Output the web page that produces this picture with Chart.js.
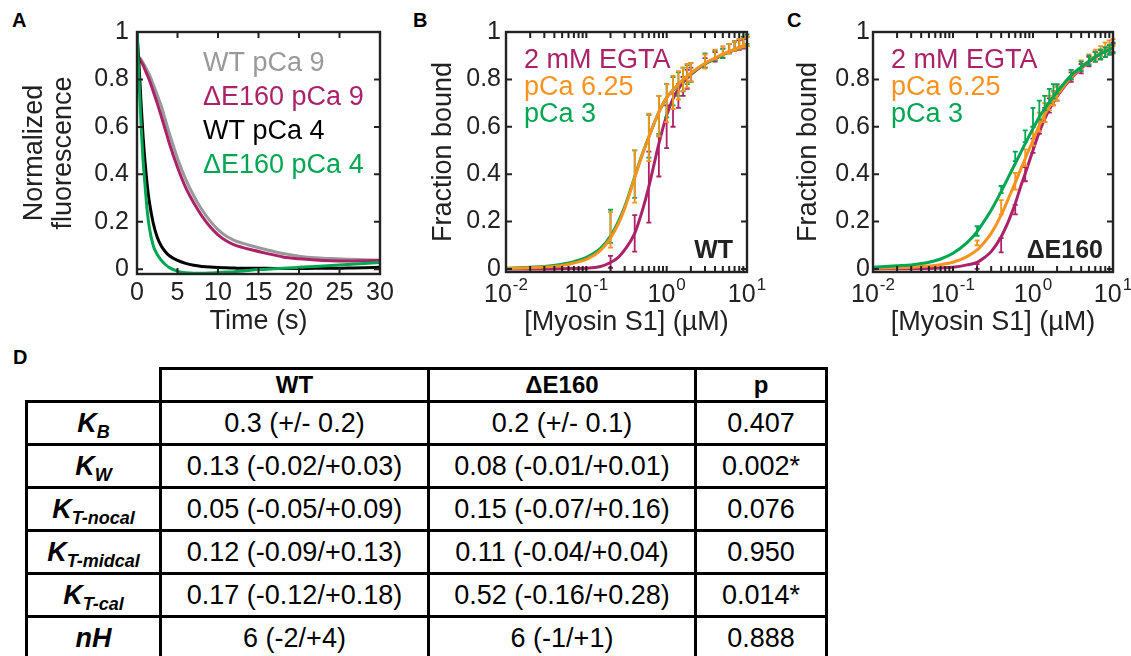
<!DOCTYPE html>
<html>
<head>
<meta charset="utf-8">
<title>Fluorescence decay and S1 binding</title>
<script src="https://cdn.jsdelivr.net/npm/chart.js@4.4.1/dist/chart.umd.min.js"></script>
<style>
  html, body { margin: 0; padding: 0; background: #fff; }
  body { position: relative; width: 1131px; height: 656px; overflow: hidden;
         font-family: 'Liberation Sans', Arial, Helvetica, sans-serif; color: #000; }
  canvas { position: absolute; top: 0; }
  .tag { position: absolute; font-weight: bold; font-size: 20px; line-height: 20px; }
  table { position: absolute; left: 25px; top: 367px; border-collapse: collapse; table-layout: fixed; }
  th, td { border: 3px solid #000; text-align: center; padding: 0; }
  th { font-size: 24px; font-weight: bold; }
  td { font-size: 27px; }
  tr.head { height: 33px; }
  tr.row { height: 43px; }
  th.blank { border-top: none; border-left: none; }
  td.k { font-weight: bold; font-style: italic; font-size: 27px; }
  td.k sub { font-size: 18px; vertical-align: -6px; line-height: 0; }
</style>
</head>
<body>
<div class="tag" style="left:12px;top:10px">A</div>
<div class="tag" style="left:413px;top:10px">B</div>
<div class="tag" style="left:787px;top:10px">C</div>
<div class="tag" style="left:13px;top:347px">D</div>

<canvas id="chartA" width="400" height="340" style="left:0px"></canvas>
<canvas id="chartB" width="370" height="340" style="left:400px"></canvas>
<canvas id="chartC" width="361" height="340" style="left:770px"></canvas>

<table id="params"></table>

<script>
// ---------- panel A: stopped-flow traces ----------
const timeS    = [0, 0.25, 0.5, 0.75, 1, 1.25, 1.5, 2, 2.5, 3, 3.5, 4, 5, 6, 7, 8, 9, 10, 11, 12, 13, 14, 16, 18, 20, 22, 24, 26, 28, 30];
const wtPCa9   = [0.91, 0.895, 0.885, 0.87, 0.855, 0.838, 0.822, 0.78, 0.735, 0.688, 0.63, 0.572, 0.468, 0.38, 0.31, 0.252, 0.205, 0.167, 0.14, 0.122, 0.11, 0.1, 0.082, 0.066, 0.055, 0.048, 0.045, 0.042, 0.04, 0.038];
const d160PCa9 = [0.90, 0.89, 0.875, 0.86, 0.84, 0.82, 0.80, 0.75, 0.70, 0.645, 0.588, 0.53, 0.43, 0.345, 0.28, 0.225, 0.18, 0.145, 0.12, 0.103, 0.092, 0.083, 0.067, 0.052, 0.044, 0.039, 0.036, 0.035, 0.036, 0.038];
const wtPCa4   = [1.0, 0.86, 0.70, 0.56, 0.45, 0.36, 0.29, 0.195, 0.135, 0.098, 0.074, 0.057, 0.037, 0.025, 0.017, 0.012, 0.009, 0.007, 0.006, 0.005, 0.004, 0.004, 0.004, 0.003, 0.003, 0.004, 0.004, 0.005, 0.006, 0.008];
const d160PCa4 = [1.0, 0.80, 0.61, 0.46, 0.35, 0.25, 0.18, 0.10, 0.062, 0.038, 0.02, 0.007, -0.008, -0.015, -0.017, -0.017, -0.016, -0.014, -0.012, -0.01, -0.007, -0.004, 0.0, 0.004, 0.008, 0.012, 0.016, 0.02, 0.024, 0.028];
const timeTicks = [0, 5, 10, 15, 20, 25, 30];
const fracTicks = [0, 0.2, 0.4, 0.6, 0.8, 1];

// ---------- panels B/C: binding data (mean, error) ----------
const concUM = [0.2, 0.4, 0.6, 0.8, 1, 1.2, 1.4, 1.6, 1.8, 2, 3, 4, 5, 6, 7, 8, 9, 10];
const wtEgta     = [0.03, 0.15, 0.345, 0.475, 0.6, 0.67, 0.73, 0.77, 0.80, 0.82, 0.87, 0.895, 0.91, 0.93, 0.94, 0.945, 0.95, 0.96];
const wtEgtaErr  = [0.025, 0.077, 0.15, 0.085, 0.09, 0.07, 0.05, 0.04, 0.04, 0.03, 0.02, 0.02, 0.02, 0.02, 0.02, 0.02, 0.02, 0.02];
const wtCa625    = [0.165, 0.39, 0.555, 0.645, 0.70, 0.745, 0.775, 0.80, 0.815, 0.83, 0.875, 0.905, 0.92, 0.93, 0.94, 0.95, 0.955, 0.96];
const wtCa625Err = [0.075, 0.11, 0.10, 0.085, 0.08, 0.07, 0.06, 0.05, 0.05, 0.04, 0.03, 0.02, 0.02, 0.02, 0.02, 0.02, 0.02, 0.02];
const wtCa3      = [0.18, 0.40, 0.56, 0.65, 0.71, 0.75, 0.78, 0.80, 0.82, 0.83, 0.88, 0.90, 0.91, 0.93, 0.94, 0.95, 0.96, 0.97];
const wtCa3Err   = [0.07, 0.10, 0.09, 0.08, 0.07, 0.06, 0.05, 0.05, 0.04, 0.04, 0.03, 0.02, 0.02, 0.02, 0.02, 0.02, 0.02, 0.02];
const dEgta      = [0.01, 0.10, 0.25, 0.40, 0.52, 0.60, 0.65, 0.69, 0.72, 0.74, 0.81, 0.845, 0.875, 0.895, 0.905, 0.915, 0.925, 0.935];
const dEgtaErr   = [0.01, 0.03, 0.02, 0.03, 0.03, 0.03, 0.03, 0.03, 0.03, 0.03, 0.02, 0.02, 0.02, 0.02, 0.02, 0.02, 0.02, 0.02];
const dCa625     = [0.11, 0.26, 0.37, 0.47, 0.56, 0.62, 0.66, 0.70, 0.72, 0.74, 0.82, 0.86, 0.885, 0.905, 0.92, 0.935, 0.945, 0.955];
const dCa625Err  = [0.01, 0.03, 0.035, 0.035, 0.04, 0.04, 0.04, 0.03, 0.03, 0.03, 0.02, 0.02, 0.02, 0.02, 0.02, 0.02, 0.02, 0.015];
const dCa3       = [0.16, 0.335, 0.475, 0.56, 0.64, 0.67, 0.70, 0.73, 0.75, 0.76, 0.82, 0.855, 0.88, 0.895, 0.905, 0.915, 0.925, 0.93];
const dCa3Err    = [0.02, 0.015, 0.02, 0.025, 0.04, 0.04, 0.03, 0.03, 0.03, 0.02, 0.02, 0.02, 0.02, 0.02, 0.02, 0.02, 0.02, 0.02];

// fitted curves
const fitConc     = [0.01, 0.02, 0.03, 0.05, 0.07, 0.1, 0.15, 0.2, 0.25, 0.3, 0.4, 0.5, 0.6, 0.7, 0.8, 1, 1.2, 1.5, 2, 3, 4, 5, 7, 10];
const wtEgtaFit   = [0, 0, 0, 0.001, 0.002, 0.003, 0.01, 0.027, 0.049, 0.08, 0.15, 0.248, 0.347, 0.445, 0.529, 0.648, 0.719, 0.775, 0.82, 0.865, 0.887, 0.905, 0.925, 0.947];
const wtCa625Fit  = [0.002, 0.005, 0.008, 0.015, 0.025, 0.04, 0.078, 0.13, 0.19, 0.255, 0.385, 0.485, 0.556, 0.615, 0.662, 0.723, 0.755, 0.79, 0.826, 0.868, 0.89, 0.907, 0.928, 0.95];
const wtCa3Fit    = [0.003, 0.007, 0.01, 0.02, 0.031, 0.049, 0.087, 0.139, 0.2, 0.262, 0.389, 0.487, 0.557, 0.616, 0.662, 0.723, 0.754, 0.789, 0.824, 0.866, 0.887, 0.905, 0.925, 0.947];
const dEgtaFit    = [0, 0.001, 0.001, 0.002, 0.004, 0.007, 0.017, 0.028, 0.049, 0.073, 0.136, 0.206, 0.276, 0.347, 0.403, 0.501, 0.578, 0.655, 0.728, 0.805, 0.846, 0.874, 0.908, 0.938];
const dCa625Fit   = [0.003, 0.005, 0.007, 0.012, 0.018, 0.028, 0.052, 0.08, 0.115, 0.15, 0.227, 0.302, 0.364, 0.42, 0.466, 0.543, 0.606, 0.67, 0.733, 0.81, 0.85, 0.878, 0.912, 0.943];
const dCa3Fit     = [0.007, 0.013, 0.017, 0.028, 0.042, 0.066, 0.111, 0.157, 0.206, 0.248, 0.326, 0.392, 0.445, 0.49, 0.529, 0.592, 0.641, 0.69, 0.747, 0.817, 0.852, 0.877, 0.908, 0.933];
const logTicks = [0.01, 0.1, 1, 10];

// ---------- panel D: fit parameters ----------
const paramNames = [['K', 'B'], ['K', 'W'], ['K', 'T-nocal'], ['K', 'T-midcal'], ['K', 'T-cal'], ['nH', '']];
const wtValues   = ['0.3 (+/- 0.2)', '0.13 (-0.02/+0.03)', '0.05 (-0.05/+0.09)', '0.12 (-0.09/+0.13)', '0.17 (-0.12/+0.18)', '6 (-2/+4)'];
const d160Values = ['0.2 (+/- 0.1)', '0.08 (-0.01/+0.01)', '0.15 (-0.07/+0.16)', '0.11 (-0.04/+0.04)', '0.52 (-0.16/+0.28)', '6 (-1/+1)'];
const pValues    = ['0.407', '0.002*', '0.076', '0.950', '0.014*', '0.888'];

// ---------- styling ----------
const FONT = "'Liberation Sans', Arial, Helvetica, sans-serif";
const AXIS = '#222222';
const GRAY = '#999999';
const MAGENTA = '#ab2268';
const GREEN = '#00a651';
const ORANGE = '#f7931e';
const BLACK = '#000000';

const pts = (xs, ys) => xs.map((x, i) => ({ x: x, y: ys[i] }));
const fmtFrac = v => (v === 0 || v === 1) ? String(v) : v.toFixed(1);
const noGrid = { display: false, drawTicks: false };

/**
 * Box frame with inward ticks (all four sides), extra texts, log labels
 */
const boxPlugin = {
    id: 'box',
    afterDatasetsDraw(chart, args, o) {
        const { ctx, chartArea: a, scales } = chart;
        const xs = scales.x, ys = scales.y;
        const L = 6;
        ctx.save();
        ctx.strokeStyle = AXIS;
        ctx.lineWidth = 2;
        ctx.beginPath();
        const xPix = xs.ticks.map(t => xs.getPixelForValue(t.value));
        if (o.logMinor) {
            for (let d = -2; d < 1; d++) {
                for (let k = 2; k <= 9; k++) xPix.push(xs.getPixelForValue(k * Math.pow(10, d)));
            }
        }
        xPix.forEach(px => {
            ctx.moveTo(px, a.bottom); ctx.lineTo(px, a.bottom - L);
            ctx.moveTo(px, a.top); ctx.lineTo(px, a.top + L);
        });
        ys.ticks.forEach(t => {
            const py = ys.getPixelForValue(t.value);
            ctx.moveTo(a.left, py); ctx.lineTo(a.left + L, py);
            ctx.moveTo(a.right, py); ctx.lineTo(a.right - L, py);
        });
        ctx.stroke();
        ctx.lineWidth = 2.4;
        ctx.strokeRect(a.left, a.top, a.right - a.left, a.bottom - a.top);

        // 10^n tick labels for log axes
        if (o.logLabels) {
            ctx.fillStyle = AXIS;
            ctx.textBaseline = 'alphabetic';
            ctx.textAlign = 'left';
            xs.ticks.forEach(t => {
                const px = xs.getPixelForValue(t.value);
                const sup = String(Math.round(Math.log10(t.value)));
                ctx.font = '25px ' + FONT;
                const wb = ctx.measureText('10').width;
                ctx.font = '17px ' + FONT;
                const ws = ctx.measureText(sup).width;
                const x0 = px - (wb + ws + 1) / 2;
                ctx.font = '25px ' + FONT;
                ctx.fillText('10', x0, a.bottom + 30);
                ctx.font = '17px ' + FONT;
                ctx.fillText(sup, x0 + wb + 1, a.bottom + 18);
            });
        }

        (o.texts || []).forEach(t => {
            ctx.font = t.font;
            ctx.fillStyle = t.color;
            ctx.textAlign = t.align || 'left';
            ctx.textBaseline = 'alphabetic';
            ctx.fillText(t.text, t.x, t.y);
        });
        ctx.restore();
    }
};

/**
 * Vertical error bars drawn right after their own dataset
 */
const errorBarPlugin = {
    id: 'errorBars',
    afterDatasetDraw(chart, args) {
        const ds = chart.data.datasets[args.index];
        if (!ds.errors) return;
        const { ctx } = chart;
        const xs = chart.scales.x, ys = chart.scales.y;
        ctx.save();
        ctx.strokeStyle = ds.borderColor;
        ctx.lineWidth = 1.8;
        ctx.beginPath();
        ds.data.forEach((p, i) => {
            const e = ds.errors[i];
            const px = xs.getPixelForValue(p.x);
            const y1 = ys.getPixelForValue(p.y - e);
            const y2 = ys.getPixelForValue(p.y + e);
            ctx.moveTo(px, y1); ctx.lineTo(px, y2);
            ctx.moveTo(px - 2.5, y1); ctx.lineTo(px + 2.5, y1);
            ctx.moveTo(px - 2.5, y2); ctx.lineTo(px + 2.5, y2);
        });
        ctx.stroke();
        ctx.restore();
    }
};

const tickFont = { family: FONT, size: 25 };
const titleFont = { family: FONT, size: 27 };
const legendFont = '27px ' + FONT;

// ---------- Panel A ----------
new Chart(document.getElementById('chartA'), {
    type: 'line',
    data: {
        datasets: [
            { label: 'WT pCa 9', data: pts(timeS, wtPCa9), borderColor: GRAY, order: 4 },
            { label: 'ΔE160 pCa 9', data: pts(timeS, d160PCa9), borderColor: MAGENTA, order: 3 },
            { label: 'WT pCa 4', data: pts(timeS, wtPCa4), borderColor: BLACK, order: 2 },
            { label: 'ΔE160 pCa 4', data: pts(timeS, d160PCa4), borderColor: GREEN, order: 1 }
        ]
    },
    options: {
        responsive: false,
        animation: false,
        devicePixelRatio: 1,
        layout: { padding: { left: 0, top: 32, right: 20, bottom: 0 } },
        elements: {
            point: { radius: 0 },
            line: { borderWidth: 3, cubicInterpolationMode: 'monotone' }
        },
        plugins: {
            legend: { display: false },
            tooltip: { enabled: false },
            box: {
                texts: [
                    { text: 'WT pCa 9', x: 203, y: 71, color: GRAY, font: legendFont },
                    { text: 'ΔE160 pCa 9', x: 203, y: 105, color: MAGENTA, font: legendFont },
                    { text: 'WT pCa 4', x: 203, y: 139, color: BLACK, font: legendFont },
                    { text: 'ΔE160 pCa 4', x: 203, y: 173, color: GREEN, font: legendFont }
                ]
            }
        },
        scales: {
            x: {
                type: 'linear', min: 0, max: 30,
                grid: noGrid, border: { display: false },
                afterBuildTicks: s => { s.ticks = timeTicks.map(v => ({ value: v })); },
                afterFit: s => { s.height = 66; },
                ticks: { color: AXIS, font: tickFont, padding: 4, maxRotation: 0, autoSkip: false },
                title: { display: true, text: 'Time (s)', color: AXIS, font: titleFont, padding: { top: 0, bottom: 2 } }
            },
            y: {
                type: 'linear', min: -0.02, max: 1,
                grid: noGrid, border: { display: false },
                afterBuildTicks: s => { s.ticks = fracTicks.map(v => ({ value: v })); },
                afterFit: s => { s.width = 137; },
                ticks: { color: AXIS, font: tickFont, padding: 8, callback: fmtFrac },
                title: {
                    display: true, text: ['Normalized', 'fluorescence'], color: AXIS,
                    font: { family: FONT, size: 27, lineHeight: 1.04 }, padding: { top: 21, bottom: 0 }
                }
            }
        }
    },
    plugins: [boxPlugin]
});

// ---------- Panels B & C ----------
function bindingChart(id, fits, means, errs, order, yWidth, padRight, tickPad, titlePad, legendX, tag) {
    const names = ['2 mM EGTA', 'pCa 6.25', 'pCa 3'];
    const colors = [MAGENTA, ORANGE, GREEN];
    const datasets = [];
    for (let i = 0; i < 3; i++) {
        datasets.push({
            label: names[i] + ' fit', data: pts(fitConc, fits[i]), borderColor: colors[i],
            borderWidth: 3, order: order[i] * 2 + 1
        });
        datasets.push({
            label: names[i], data: pts(concUM, means[i]), errors: errs[i], borderColor: colors[i],
            showLine: false, pointRadius: 0, order: order[i] * 2
        });
    }
    return new Chart(document.getElementById(id), {
        type: 'line',
        data: { datasets: datasets },
        options: {
            responsive: false,
            animation: false,
            devicePixelRatio: 1,
            layout: { padding: { left: 0, top: 32, right: padRight, bottom: 0 } },
            elements: {
                point: { radius: 0 },
                line: { borderWidth: 3, cubicInterpolationMode: 'monotone' }
            },
            plugins: {
                legend: { display: false },
                tooltip: { enabled: false },
                box: {
                    logMinor: true,
                    logLabels: true,
                    texts: [
                        { text: names[0], x: legendX, y: 68, color: MAGENTA, font: legendFont },
                        { text: names[1], x: legendX, y: 95, color: ORANGE, font: legendFont },
                        { text: names[2], x: legendX, y: 122, color: GREEN, font: legendFont },
                        { text: tag, x: 333, y: 258, color: AXIS, font: 'bold 25px ' + FONT, align: 'right' }
                    ]
                }
            },
            scales: {
                x: {
                    type: 'logarithmic', min: 0.01, max: 10,
                    grid: noGrid, border: { display: false },
                    afterBuildTicks: s => { s.ticks = logTicks.map(v => ({ value: v })); },
                    afterFit: s => { s.height = 68; },
                    ticks: { display: false },
                    title: { display: true, text: '[Myosin S1] (µM)', color: AXIS, font: titleFont, padding: { top: 0, bottom: 1 } }
                },
                y: {
                    type: 'linear', min: -0.013, max: 1,
                    grid: noGrid, border: { display: false },
                    afterBuildTicks: s => { s.ticks = fracTicks.map(v => ({ value: v })); },
                    afterFit: s => { s.width = yWidth; },
                    ticks: { color: AXIS, font: tickFont, padding: tickPad, callback: fmtFrac },
                    title: { display: true, text: 'Fraction bound', color: AXIS, font: titleFont, padding: { top: titlePad, bottom: 0 } }
                }
            }
        },
        plugins: [boxPlugin, errorBarPlugin]
    });
}

bindingChart('chartB',
    [wtEgtaFit, wtCa625Fit, wtCa3Fit],
    [wtEgta, wtCa625, wtCa3],
    [wtEgtaErr, wtCa625Err, wtCa3Err],
    [2, 0, 1], 106, 23, 5, 27, 124, 'WT');

bindingChart('chartC',
    [dEgtaFit, dCa625Fit, dCa3Fit],
    [dEgta, dCa625, dCa3],
    [dEgtaErr, dCa625Err, dCa3Err],
    [2, 1, 0], 103, 18, 3, 22, 121, 'ΔE160');

// ---------- Panel D table ----------
(function buildTable() {
    const t = document.getElementById('params');
    let html = '<colgroup><col style="width:134px"><col style="width:268px"><col style="width:267px"><col style="width:131px"></colgroup>';
    html += '<tr class="head"><th class="blank"></th><th>WT</th><th>ΔE160</th><th>p</th></tr>';
    paramNames.forEach((n, i) => {
        const label = n[1] ? n[0] + '<sub>' + n[1] + '</sub>' : n[0];
        html += '<tr class="row"><td class="k">' + label + '</td><td>' + wtValues[i] + '</td><td>' +
            d160Values[i] + '</td><td>' + pValues[i] + '</td></tr>';
    });
    t.innerHTML = html;
})();
</script>
</body>
</html>
